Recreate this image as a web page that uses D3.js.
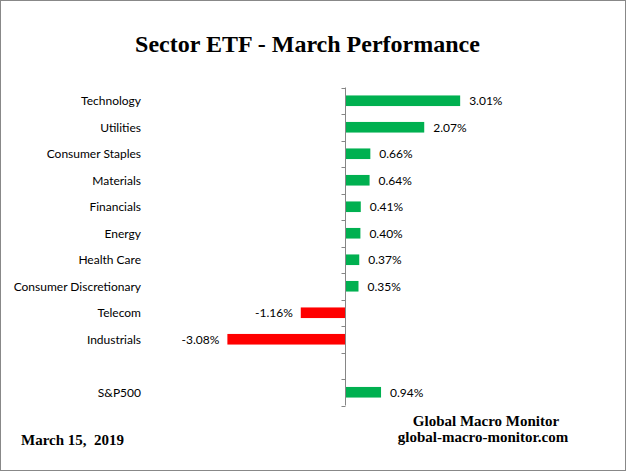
<!DOCTYPE html>
<html>
<head>
<meta charset="utf-8">
<script src="https://cdn.jsdelivr.net/npm/d3@7"></script>
<style>
  body { margin: 0; background: #fff; }
  svg { display: block; }
  .lbl { font-family: Lato, "Open Sans", sans-serif; font-size: 12px; fill: #000; }
  .serif { font-family: "Liberation Serif", "Times New Roman", serif; font-weight: bold; fill: #000; }
</style>
</head>
<body>
<div class="chart"></div>
<script>
// sectors, top to bottom, plus a gap row and the benchmark
var sectors = ["Technology", "Utilities", "Consumer Staples", "Materials", "Financials",
               "Energy", "Health Care", "Consumer Discretionary", "Telecom", "Industrials"];
var sectorValues = [3.01, 2.07, 0.66, 0.64, 0.41, 0.40, 0.37, 0.35, -1.16, -3.08];
var benchmark = "S&P500";
var benchmarkValue = 0.94;
var xDomain = [-5, 4];

var width = 626, height = 471;

var rows = sectors.map(function (s, i) { return { name: s, value: sectorValues[i] }; });
rows.push({ name: " ", value: null }); // empty spacer row
rows.push({ name: benchmark, value: benchmarkValue });

var svg = d3.select(".chart")
    .append("svg")
    .attr("width", width)
    .attr("height", height);

// outer frame
svg.append("rect")
    .attr("x", 0.5).attr("y", 0.5)
    .attr("width", width - 1).attr("height", height - 1)
    .attr("fill", "#fff")
    .attr("stroke", "#888");

svg.append("text")
    .attr("class", "serif")
    .attr("x", 307.5).attr("y", 52)
    .attr("text-anchor", "middle")
    .style("font-size", "24px")
    .text("Sector ETF - March Performance");

var x = d3.scaleLinear().domain(xDomain).range([154, 498]);
var y = d3.scaleBand()
    .domain(rows.map(function (d) { return d.name; }))
    .range([87.5, 405.5])
    .paddingInner(0.6)
    .paddingOuter(0.3);

// bars
var bars = rows.filter(function (d) { return d.value !== null; });
svg.append("g").selectAll("rect")
    .data(bars)
    .join("rect")
    .attr("x", function (d) { return x(Math.min(0, d.value)); })
    .attr("y", function (d) { return y(d.name); })
    .attr("width", function (d) { return Math.abs(x(d.value) - x(0)); })
    .attr("height", y.bandwidth())
    .attr("fill", function (d) { return d.value < 0 ? "#ff0000" : "#00b050"; });

// value labels
svg.append("g").selectAll("text")
    .data(bars)
    .join("text")
    .attr("class", "lbl")
    .attr("x", function (d) { return d.value < 0 ? x(d.value) - 8 : x(d.value) + 9; })
    .attr("y", function (d) { return y(d.name) + y.bandwidth() / 2; })
    .attr("dy", "0.38em")
    .attr("text-anchor", function (d) { return d.value < 0 ? "end" : "start"; })
    .text(function (d) { return d.value.toFixed(2) + "%"; });

// category labels
svg.append("g").selectAll("text")
    .data(rows)
    .join("text")
    .attr("class", "lbl")
    .attr("x", 141)
    .attr("y", function (d) { return y(d.name) + y.bandwidth() / 2; })
    .attr("dy", "0.38em")
    .attr("text-anchor", "end")
    .text(function (d) { return d.name.trim(); });

// zero axis with tick marks between categories
var axisG = svg.append("g");
var x0 = Math.round(x(0)) + 0.5;
axisG.append("line")
    .attr("x1", x0).attr("x2", x0)
    .attr("y1", y.range()[0]).attr("y2", y.range()[1])
    .attr("stroke", "#868686");
var tickYs = d3.range(rows.length + 1).map(function (i) { return y.range()[0] + i * y.step(); });
axisG.selectAll("line.tick")
    .data(tickYs)
    .join("line")
    .attr("class", "tick")
    .attr("x1", x0 - 4).attr("x2", x0)
    .attr("y1", function (d) { return Math.round(d) + 0.5; })
    .attr("y2", function (d) { return Math.round(d) + 0.5; })
    .attr("stroke", "#868686");

// footer
svg.append("text").attr("class", "serif")
    .attr("x", 486).attr("y", 426)
    .attr("text-anchor", "middle")
    .style("font-size", "15px")
    .text("Global Macro Monitor");
svg.append("text").attr("class", "serif")
    .attr("x", 483).attr("y", 442)
    .attr("text-anchor", "middle")
    .style("font-size", "15px")
    .text("global-macro-monitor.com");
svg.append("text").attr("class", "serif")
    .attr("x", 21).attr("y", 445)
    .style("font-size", "15px")
    .style("white-space", "pre")
    .text("March 15,  2019");
</script>
</body>
</html>
